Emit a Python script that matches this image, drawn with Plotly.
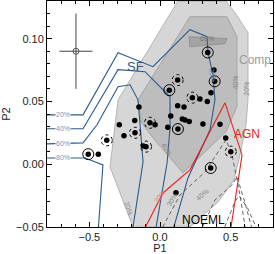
import plotly.graph_objects as go

# ---------------- data ----------------
x_range = [-0.8, 0.8]
y_range = [-0.05, 0.13]

# Comp filled contours
comp20_x = [0.127, 0.467, 0.531, 0.623, 0.623, 0.609, 0.566, 0.524, 0.411, 0.283, 0.212, -0.191, -0.354, -0.297]
comp20_y = [0.130, 0.130, 0.1207, 0.1048, 0.0513, 0.0314, 0.0074, -0.0125, -0.0301, -0.0429, -0.050, -0.050, -0.0022, 0.0513]
comp40_x = [0.212, 0.474, 0.545, 0.545, 0.467, 0.163, -0.050, -0.134, -0.156]
comp40_y = [0.1175, 0.1175, 0.1016, 0.0457, 0.0258, -0.0069, 0.0210, 0.0338, 0.0513]
comp60_x = [0.205, 0.474, 0.460, 0.212]
comp60_y = [0.1016, 0.100, 0.096, 0.0936]

# SF contours (blue)
sf20_x = [-0.80, -0.545, -0.297, -0.050, 0.212, 0.333, 0.340, 0.375, 0.389, 0.354, 0.198, 0.085]
sf20_y = [0.0393, 0.0393, 0.0888, 0.0777, 0.1072, 0.1016, 0.0888, 0.0713, 0.0513, 0.0274, -0.0109, -0.055]
sf40_x = [-0.80, -0.545, -0.297, -0.106, 0.071, 0.071, 0.050, -0.035]
sf40_y = [0.0282, 0.0282, 0.0753, 0.0737, 0.0537, 0.029, 0.001, -0.055]
sf60_x = [-0.80, -0.545, -0.446, -0.297, -0.212, -0.156, -0.142, -0.120, -0.198]
sf60_y = [0.0162, 0.017, 0.0314, 0.0617, 0.0633, 0.0513, 0.033, 0.0018, -0.055]
sf80_x = [-0.80, -0.53, -0.404, -0.439]
sf80_y = [0.005, 0.005, -0.0006, -0.055]

# AGN contour (red)
agn20_x = [-0.125, 0.021, 0.212, 0.460, 0.581, 0.496]
agn20_y = [-0.055, -0.0229, -0.0045, 0.0489, 0.0074, -0.055]

# NOEML contours (dashed)
noeml20_x = [-0.005, 0.142, 0.319, 0.467, 0.510, 0.566, 0.610]
noeml20_y = [-0.055, -0.0245, -0.0061, 0.0194, 0.0074, -0.0245, -0.055]
noeml40_x = [0.280, 0.389, 0.510, 0.545, 0.600, 0.660]
noeml40_y = [-0.055, -0.0285, -0.0165, -0.010, -0.030, -0.055]
noeml60_x = [0.440, 0.530, 0.560, 0.620, 0.700]
noeml60_y = [-0.055, -0.030, -0.025, -0.035, -0.055]

# galaxies
dot_x = [0.382, 0.361, 0.283, 0.335, 0.125, 0.170, -0.149, 0.076, 0.158, 0.177, 0.207, 0.304,
         -0.179, -0.035, 0.425, 0.055, -0.118, 0.465, 0.113, -0.288, -0.255, -0.437]
dot_y = [0.075, 0.057, 0.052, 0.050, 0.0465, 0.0455, 0.0455, 0.0385, 0.036, 0.0353, 0.034, 0.032,
         0.0348, 0.0314, 0.0318, 0.0295, 0.0146, 0.0208, -0.0227, 0.0314, 0.0226, 0.008]
ring_x = [0.338, 0.387, 0.066, 0.127, 0.359, -0.508]
ring_y = [0.089, 0.066, 0.059, 0.028, -0.003, 0.008]
dring_x = [0.125, 0.229, -0.071, -0.177, -0.099, 0.501, -0.377]
dring_y = [0.067, 0.053, 0.033, 0.025, 0.014, 0.010, 0.019]

# typical error
err_x, err_y = [-0.595], [0.090]
err_dx, err_dy = [0.117], [0.030]

# ---------------- figure ----------------
BLUE = "#2b5c8c"
LBLUE = "#7593b8"
RED = "#e8231e"
GRAYTXT = "#9a9a9a"

fig = go.Figure()


def poly(x, y, fill, line):
    fig.add_trace(go.Scatter(x=x + x[:1], y=y + y[:1], mode="lines", fill="toself",
                             fillcolor=fill, line=dict(color=line, width=0.8),
                             hoverinfo="skip", showlegend=False))


poly(comp20_x, comp20_y, "#d6d6d6", "#a6a6a6")
poly(comp40_x, comp40_y, "#bdbdbd", "#9a9a9a")
poly(comp60_x, comp60_y, "#a4a4a4", "#8a8a8a")


def line(x, y, color, dash="solid", width=1.1):
    fig.add_trace(go.Scatter(x=x, y=y, mode="lines", line=dict(color=color, width=width, dash=dash),
                             hoverinfo="skip", showlegend=False))


for lx, ly in [(sf20_x, sf20_y), (sf40_x, sf40_y), (sf60_x, sf60_y), (sf80_x, sf80_y)]:
    line(lx, ly, BLUE)
line(agn20_x, agn20_y, RED)
for lx, ly in [(noeml20_x, noeml20_y), (noeml40_x, noeml40_y), (noeml60_x, noeml60_y)]:
    line(lx, ly, "#555555", dash="4px,3px", width=0.9)

# rings
fig.add_trace(go.Scatter(x=ring_x, y=ring_y, mode="markers",
                         marker=dict(symbol="circle-open", size=11, color="black", line=dict(width=1)),
                         hoverinfo="skip", showlegend=False))
# dots
all_x = dot_x + ring_x + dring_x
all_y = dot_y + ring_y + dring_y
fig.add_trace(go.Scatter(x=all_x, y=all_y, mode="markers",
                         marker=dict(symbol="circle", size=5.5, color="black"),
                         hoverinfo="skip", showlegend=False))

# dotted rings as pixel-sized circle shapes anchored at the data
for cx, cy in zip(dring_x, dring_y):
    fig.add_shape(type="circle", xref="x", yref="y", xsizemode="pixel", ysizemode="pixel",
                  xanchor=cx, yanchor=cy, x0=-5.5, x1=5.5, y0=-5.5, y1=5.5,
                  line=dict(color="black", width=1, dash="dot"))

# typical error bar
fig.add_trace(go.Scatter(x=err_x, y=err_y, mode="markers",
                         marker=dict(symbol="circle-open", size=6, color="#555555", line=dict(width=1)),
                         error_x=dict(type="data", array=err_dx, color="#444444", thickness=1, width=0),
                         error_y=dict(type="data", array=err_dy, color="#444444", thickness=1, width=0),
                         hoverinfo="skip", showlegend=False))

FONT = "Liberation Sans, Arial, sans-serif"

# labels
ann = [
    dict(x=-0.17, y=0.078, text="SF", font=dict(color=BLUE, size=13)),
    dict(x=0.675, y=0.083, text="Comp", font=dict(color=GRAYTXT, size=12)),
    dict(x=0.616, y=0.024, text="AGN", font=dict(color=RED, size=12)),
    dict(x=0.305, y=-0.0444, text="NOEML", font=dict(color="black", size=12)),
]
for a in ann:
    fig.add_annotation(xref="x", yref="y", showarrow=False, font_family=FONT, **a)

pct = [
    (-0.687, 0.0393, "20%", LBLUE, 0),
    (-0.687, 0.0282, "40%", LBLUE, 0),
    (-0.687, 0.0162, "60%", LBLUE, 0),
    (-0.687, 0.005, "80%", LBLUE, 0),
    (0.375, 0.071, "20%", LBLUE, 80),
    (0.33, 0.100, "60%", "#777777", 0),
    (0.538, 0.065, "40%", "#888888", -90),
    (0.615, 0.060, "20%", "#888888", -90),
    (-0.22, -0.035, "20%", "#888888", 70),
    (0.05, 0.012, "40%", "#888888", 60),
    (0.0, -0.026, "20%", "#f08080", -50),
    (0.085, -0.028, "30%", "#888888", -60),
    (0.30, -0.024, "40%", "#888888", -40),
]
for px, py, t, c, ang in pct:
    fig.add_annotation(x=px, y=py, xref="x", yref="y", text=t, showarrow=False, textangle=ang,
                       font=dict(size=7, color=c, family=FONT),
                       bgcolor="white" if c == LBLUE and ang == 0 else None, borderpad=0)

axis_common = dict(showline=True, linecolor="black", linewidth=1, mirror="allticks",
                   ticks="inside", ticklen=5, tickcolor="black", showgrid=False, zeroline=False,
                   automargin=False,
                   tickfont=dict(size=11, color="#222222", family=FONT))
fig.update_xaxes(range=x_range, tick0=0, dtick=0.5, tickformat=".1f",
                 minor=dict(dtick=0.1, ticks="inside", ticklen=3, tickcolor="black"),
                 title=dict(text="P1", font=dict(size=11, family=FONT, color="#222222"), standoff=9),
                 **axis_common)
fig.update_yaxes(range=y_range, tick0=0, dtick=0.05, tickformat=".2f",
                 minor=dict(dtick=0.01, ticks="inside", ticklen=3, tickcolor="black"),
                 title=dict(text="P2", font=dict(size=11, family=FONT, color="#222222"), standoff=6),
                 **axis_common)

fig.update_layout(width=275, height=254, margin=dict(l=47, r=2, t=1, b=27),
                  plot_bgcolor="white", paper_bgcolor="white", showlegend=False,
                  font=dict(family=FONT))
fig.write_html("out.html", config={"displayModeBar": False},
               post_script="document.body.style.margin='0';document.body.style.padding='0';")
